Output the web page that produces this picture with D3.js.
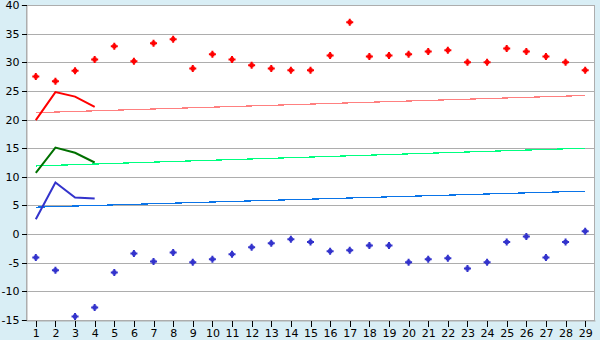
<!DOCTYPE html>
<html><head><meta charset="utf-8">
<script src="https://cdn.jsdelivr.net/npm/d3@7"></script>
<style>
html,body{margin:0;padding:0;background:#d9eef5;}
svg{display:block;}
text{font-family:"DejaVu Sans",Verdana,sans-serif;font-size:11px;fill:#000;}
</style></head>
<body><svg id="c" width="600" height="340"></svg>
<script>
const categories = d3.range(1, 30).map(String);
const redPoints = [27.5,26.7,28.5,30.5,32.8,30.2,33.3,34.0,28.9,31.4,30.5,29.5,28.9,28.6,28.6,31.2,37.0,31.0,31.2,31.4,31.9,32.1,30.0,30.0,32.4,31.9,31.0,30.0,28.6];
const bluePoints = [-4.1,-6.3,-14.4,-12.8,-6.7,-3.4,-4.8,-3.2,-4.9,-4.4,-3.5,-2.3,-1.6,-0.9,-1.4,-3.0,-2.8,-2.0,-2.0,-4.9,-4.4,-4.2,-6.0,-4.9,-1.4,-0.4,-4.1,-1.4,0.5];
const lineCats = ["1","2","3","4"];
const redLine = [19.9,24.8,24.0,22.2];
const greenLine = [10.7,15.1,14.2,12.5];
const blueLine = [2.6,9.0,6.4,6.2];
const trendCats = ["1","29"];
const redTrend = [21.2,24.2];
const greenTrend = [11.9,15.0];
const blueTrend = [4.7,7.5];
const yTicks = [-15,-10,-5,0,5,10,15,20,25,30,35,40];

const svg = d3.select("#c");
const L = 26, R = 595, T = 5, B = 320;
const x = d3.scalePoint().domain(categories).range([L, R]).padding(0.5);
const y = d3.scaleLinear().domain([-15, 40]).range([B, T]);

svg.append("rect").attr("x", L).attr("y", T).attr("width", R - L).attr("height", B - T).attr("fill", "#fff");

// gridlines
svg.append("g").selectAll("line").data(yTicks).join("line")
  .attr("x1", L).attr("x2", R)
  .attr("y1", d => Math.round(y(d)) + 0.5).attr("y2", d => Math.round(y(d)) + 0.5)
  .attr("stroke", "#adadad").attr("stroke-width", 1).attr("shape-rendering", "crispEdges");

// plot border
svg.append("rect").attr("x", L + 0.5).attr("y", T + 0.5).attr("width", R - L - 1).attr("height", B - T)
  .attr("fill", "none").attr("stroke", "#adadad").attr("shape-rendering", "crispEdges");

const fontCss = '"DejaVu Sans",Verdana,sans-serif';
// axes
const yAxis = d3.axisLeft(y).tickValues(yTicks).tickSize(5).tickPadding(2).tickFormat(d => String(d));
const gy = svg.append("g").attr("transform", `translate(${L + 0.5},0)`).call(yAxis);
gy.select(".domain").attr("stroke", "#adadad");
gy.selectAll(".tick line").attr("stroke", "#000");
gy.selectAll("text").style("font-family", fontCss).style("font-size", "11px").attr("fill", "#000");

const xAxis = d3.axisBottom(x).tickSize(6).tickPadding(3).tickSizeOuter(0);
const gx = svg.append("g").attr("transform", `translate(0,${B + 0.5})`).call(xAxis);
gx.select(".domain").attr("stroke", "#adadad");
gx.selectAll(".tick line").attr("stroke", "#000");
gx.selectAll("text").style("font-family", fontCss).style("font-size", "11px").attr("fill", "#000");
svg.selectAll(".tick line").attr("shape-rendering", "crispEdges");

// trend lines
const trendLine = d3.line().x((d, i) => x(trendCats[i])).y(d => y(d));
[[redTrend, "#ff8080"], [greenTrend, "#00ff80"], [blueTrend, "#0a74e8"]].forEach(([vals, col]) => {
  svg.append("path").datum(vals).attr("d", trendLine).attr("fill", "none")
    .attr("stroke", col).attr("stroke-width", 1.2).attr("shape-rendering", "crispEdges");
});

// data lines
const dataLine = d3.line().x((d, i) => x(lineCats[i])).y(d => y(d));
[[redLine, "#ff0000"], [greenLine, "#007000"], [blueLine, "#3333cc"]].forEach(([vals, col]) => {
  svg.append("path").datum(vals).attr("d", dataLine).attr("fill", "none")
    .attr("stroke", col).attr("stroke-width", 2).attr("stroke-linejoin", "miter");
});

// markers: plus with thickened centre
const markerPath = "M-1,-3.5H1V-2H2V-1H3.5V1H2V2H1V3.5H-1V2H-2V1H-3.5V-1H-2V-2H-1Z";
[[redPoints, "#ff0000"], [bluePoints, "#3333cc"]].forEach(([vals, col]) => {
  svg.append("g").selectAll("path").data(vals).join("path")
    .attr("d", markerPath)
    .attr("transform", (d, i) => `translate(${x(categories[i])},${y(d)})`)
    .attr("fill", col);
});
</script></body></html>
